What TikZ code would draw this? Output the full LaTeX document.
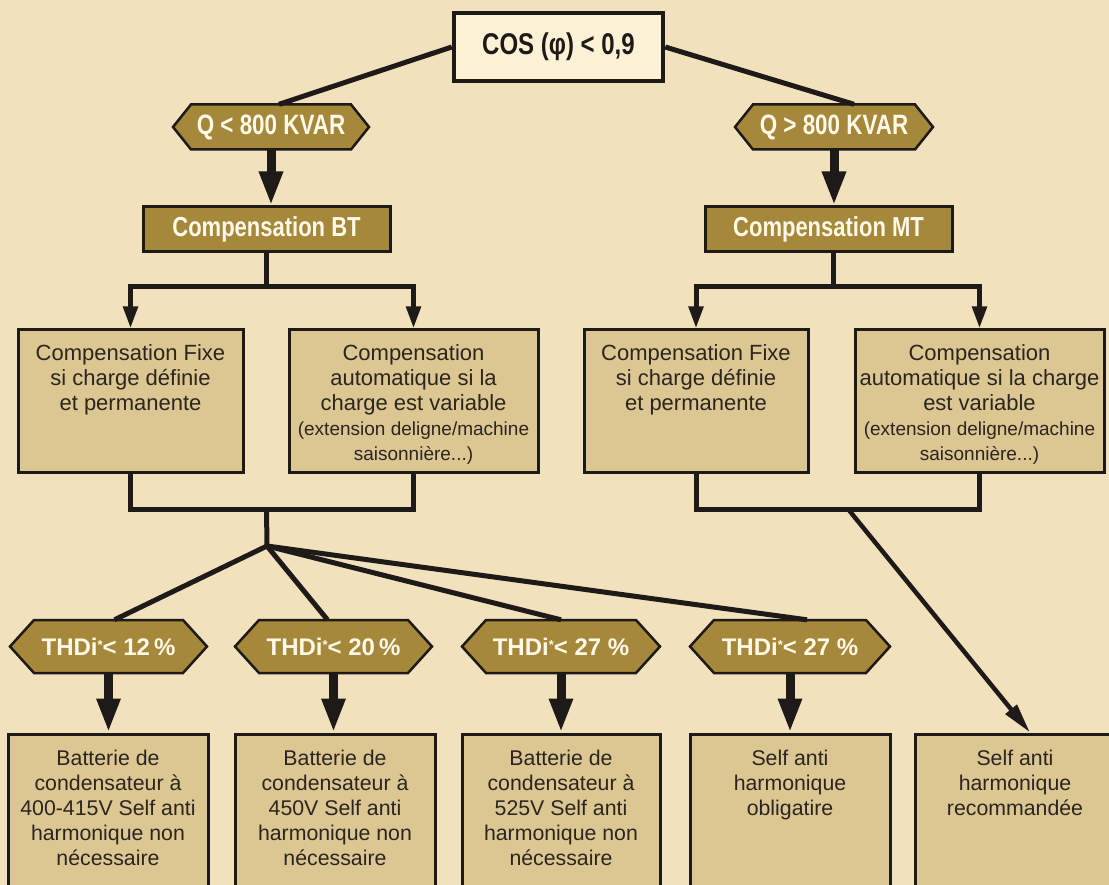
\documentclass[tikz,border=0pt]{standalone}
\usepackage{fontspec}
\setmainfont{Liberation Sans}
\newfontfamily\condfont[FakeStretch=0.8]{Liberation Sans}
\usetikzlibrary{arrows.meta}
\definecolor{bgc}{RGB}{241,225,189}
\definecolor{tanc}{RGB}{220,198,146}
\definecolor{goldc}{RGB}{166,136,58}
\definecolor{cosc}{RGB}{253,242,214}
\definecolor{ink}{RGB}{30,26,24}
\definecolor{txtc}{RGB}{43,37,32}
\definecolor{hextxt}{RGB}{255,249,234}
\newcommand\hexpath[5]{%
  \filldraw[hexdraw] ({#1-#3/2},#2) -- ({#1-#3/2+#5},{#2-#4/2}) -- ({#1+#3/2-#5},{#2-#4/2}) -- ({#1+#3/2},#2) -- ({#1+#3/2-#5},{#2+#4/2}) -- ({#1-#3/2+#5},{#2+#4/2}) -- cycle;}
\tikzset{
  conn/.style={draw=ink, line width=5pt},
  bigarrow/.style={draw=ink, line width=9pt, -{Triangle[length=34pt,width=22pt]}},
  smallarrow/.style={draw=ink, line width=5pt, -{Triangle[length=22pt,width=14pt]}},
  diagarrow/.style={draw=ink, line width=4.5pt, -{Triangle[length=30pt,width=14pt]}},
  hexdraw/.style={fill=goldc, draw=ink, line width=2.5pt, line join=miter},
  hexlabel/.style={inner sep=0pt, text=hextxt},
  qlabel/.style={hexlabel, font=\condfont\bfseries\fontsize{28}{30}\selectfont},
  thdlabel/.style={hexlabel, font=\bfseries\fontsize{24}{26}\selectfont},
  tanbox/.style={draw=ink, line width=3pt, fill=tanc, inner sep=0pt},
  boxtext/.style={inner sep=0pt, align=center, text=txtc, anchor=north, font=\fontsize{22}{25}\selectfont},
  bottext/.style={inner sep=0pt, align=center, text=txtc, anchor=north, font=\fontsize{21.3}{25}\selectfont},
  goldbox/.style={draw=ink, line width=3pt, fill=goldc, inner sep=0pt, text=hextxt,
    font=\condfont\bfseries\fontsize{27.5}{30}\selectfont},
}
\newcommand\starsup{{\fontsize{13}{13}\selectfont\raisebox{6pt}{*}}}
\begin{document}
\begin{tikzpicture}[x=1pt,y=-1pt]
\useasboundingbox (0,0) rectangle (1109,885);
\clip (0,0) rectangle (1109,885);
\fill[bgc] (0,0) rectangle (1109,885);

% top
\node[draw=ink, line width=4.5pt, fill=cosc, minimum width=209, minimum height=68, inner sep=0pt,
  text=ink, font=\condfont\bfseries\fontsize{30}{32}\selectfont] (cos) at (558.5,47) {COS (φ) < 0,9};

\hexpath{271}{127}{196}{45}{18}
\node[qlabel, minimum width=196, minimum height=45] (q1) at (271,127) {Q < 800 KVAR};
\hexpath{834}{127}{198}{45}{18}
\node[qlabel, minimum width=198, minimum height=45] (q2) at (834,127) {Q > 800 KVAR};

\node[goldbox, minimum width=247, minimum height=45] (bt) at (266.5,229.5) {Compensation BT};
\node[goldbox, minimum width=247, minimum height=45] (mt) at (828.5,229.5) {Compensation MT};

% middle boxes
\node[tanbox, minimum width=225, minimum height=142] (btl) at (130.5,401) {};
\node[tanbox, minimum width=249, minimum height=142] (btr) at (413.5,401) {};
\node[tanbox, minimum width=224, minimum height=142] (mtl) at (696,401) {};
\node[tanbox, minimum width=249, minimum height=142] (mtr) at (979.5,401) {};

\node[boxtext] (btlt) at ([yshift=-16]btl.north) {Compensation Fixe\\si charge définie\\et permanente};
\node[boxtext] (btrt) at ([yshift=-16]btr.north) {Compensation\\automatique si la\\charge est variable\\
  \fontsize{19}{25}\selectfont (extension deligne/machine\\\fontsize{19}{23}\selectfont saisonnière...)};
\node[boxtext] (mtlt) at ([yshift=-16]mtl.north) {Compensation Fixe\\si charge définie\\et permanente};
\node[boxtext] (mtrt) at ([yshift=-16]mtr.north) {Compensation\\automatique si la charge\\est variable\\
  \fontsize{19}{25}\selectfont (extension deligne/machine\\\fontsize{19}{23}\selectfont saisonnière...)};

% THDi hexagons
\hexpath{108.5}{646.5}{197}{53}{24}
\node[thdlabel, minimum width=197, minimum height=53] (h1) at (108.5,646.5) {THDi\starsup< 12\,\%};
\hexpath{333.5}{646.5}{197}{53}{24}
\node[thdlabel, minimum width=197, minimum height=53] (h2) at (333.5,646.5) {THDi\starsup< 20\,\%};
\hexpath{561}{646.5}{198}{53}{24}
\node[thdlabel, minimum width=198, minimum height=53] (h3) at (561,646.5) {THDi\starsup< 27 \%};
\hexpath{790}{646.5}{200}{53}{24}
\node[thdlabel, minimum width=200, minimum height=53] (h4) at (790,646.5) {THDi\starsup< 27 \%};

% bottom boxes
\node[tanbox, minimum width=200, minimum height=170] (b1) at (108,819) {};
\node[tanbox, minimum width=200, minimum height=170] (b2) at (335,819) {};
\node[tanbox, minimum width=198, minimum height=170] (b3) at (561,819) {};
\node[tanbox, minimum width=200, minimum height=170] (b4) at (790,819) {};
\node[tanbox, minimum width=200, minimum height=170] (b5) at (1015,819) {};

\node[bottext] (b1t) at ([yshift=-17]b1.north) {Batterie de\\condensateur à\\400-415V Self anti\\harmonique non\\nécessaire};
\node[bottext] (b2t) at ([yshift=-17]b2.north) {Batterie de\\condensateur à\\450V Self anti\\harmonique non\\nécessaire};
\node[bottext] (b3t) at ([yshift=-17]b3.north) {Batterie de\\condensateur à\\525V Self anti\\harmonique non\\nécessaire};
\node[bottext] (b4t) at ([yshift=-17]b4.north) {Self anti\\harmonique\\obligatire};
\node[bottext] (b5t) at ([yshift=-17]b5.north) {Self anti\\harmonique\\recommandée};

% connectors top
\draw[conn] (cos.west) -- ([xshift=8]q1.north);
\draw[conn] (cos.east) -- ([xshift=20]q2.north);
\draw[bigarrow] (q1.south) -- (q1.south |- bt.north);
\draw[bigarrow] (q2.south) -- (q2.south |- mt.north);

% BT tree
\coordinate (btj) at (266.5,287);
\draw[conn] (bt.south) -- (btj);
\draw[smallarrow] (btj) -| (btl.north);
\draw[smallarrow] (btj) -| (btr.north);
% MT tree
\coordinate (mtj) at (833,287);
\draw[conn] (mt.south -| mtj) -- (mtj);
\draw[smallarrow] (mtj) -| (mtl.north);
\draw[smallarrow] (mtj) -| (mtr.north);

% BT join and fan
\coordinate (btjoin) at (266.5,509);
\coordinate (fan) at (267,546);
\draw[conn] (btl.south) |- (btjoin) -| (btr.south);
\draw[conn] (btjoin) -- (fan);
\draw[conn] (fan) -- ([xshift=6]h1.north);
\draw[conn] (fan) -- ([xshift=-6]h2.north);
\draw[conn] (fan) -- (h3.north);
\draw[conn] (fan) -- ([xshift=17]h4.north);

% MT join and diagonal
\coordinate (mtjoin) at (848,509);
\draw[conn] (mtl.south) |- (mtjoin) -| (mtr.south);
\draw[diagarrow] (mtjoin) -- ([xshift=15]b5.north);

% THDi arrows
\draw[bigarrow] (h1.south) -- (h1.south |- b1.north);
\draw[bigarrow] (h2.south) -- (h2.south |- b2.north);
\draw[bigarrow] (h3.south) -- (h3.south |- b3.north);
\draw[bigarrow] (h4.south) -- (h4.south |- b4.north);
\end{tikzpicture}
\end{document}
